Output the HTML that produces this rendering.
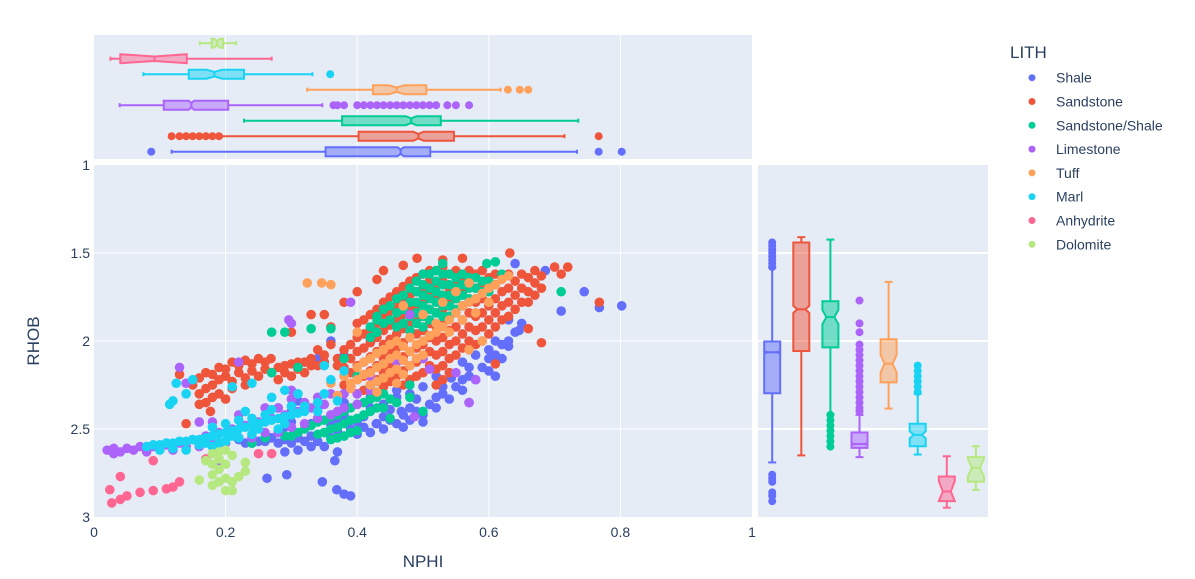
<!DOCTYPE html>
<html><head><meta charset="utf-8"><style>
body{margin:0;background:#fff;}
svg{display:block;font-family:"Liberation Sans",sans-serif;}
</style></head><body>
<svg id="chart" width="1195" height="579" viewBox="0 0 1195 579" xmlns="http://www.w3.org/2000/svg">
<rect x="94" y="35" width="658" height="124" fill="#e5ecf6"/>
<rect x="94" y="165" width="658" height="352" fill="#e5ecf6"/>
<rect x="758" y="165" width="230" height="352" fill="#e5ecf6"/>
<g id="grid"></g>
<g id="marks"></g>
<g id="axes" fill="#2a3f5f" font-size="14"></g>
<text x="423" y="567" font-size="17" fill="#2a3f5f" text-anchor="middle">NPHI</text>
<text x="39" y="341" font-size="17" fill="#2a3f5f" text-anchor="middle" transform="rotate(-90 39 341)">RHOB</text>
<g id="legend"></g>
</svg>
<script>
const categories=["Shale","Sandstone","Sandstone/Shale","Limestone","Tuff","Marl","Anhydrite","Dolomite"];
const colors=["#636efa","#EF553B","#00cc96","#ab63fa","#FFA15A","#19d3f3","#FF6692","#B6E880"];
const xTicks=[0,0.2,0.4,0.6,0.8,1];
const xTickLabels=["0","0.2","0.4","0.6","0.8","1"];
const yTicks=[1,1.5,2,2.5,3];
const yTickLabels=["1","1.5","2","2.5","3"];
// scatter points "nphi rhob; ..."
const shalePts="0.22 2.56;0.24 2.58;0.26 2.57;0.28 2.58;0.30 2.58;0.32 2.57;0.34 2.57;0.36 2.55;0.38 2.54;0.40 2.53;0.42 2.52;0.44 2.50;0.46 2.47;0.48 2.45;0.50 2.42;0.52 2.38;0.54 2.33;0.56 2.28;0.58 2.22;0.60 2.17;0.62 2.10;0.28 2.52;0.32 2.50;0.36 2.48;0.40 2.46;0.44 2.43;0.48 2.38;0.52 2.32;0.56 2.22;0.60 2.10;0.62 2.02;0.64 1.95;0.30 2.46;0.34 2.44;0.38 2.42;0.42 2.38;0.46 2.32;0.50 2.26;0.54 2.18;0.58 2.08;0.31 2.62;0.33 2.60;0.29 2.63;0.35 2.60;0.37 2.63;0.293 2.76;0.263 2.78;0.347 2.80;0.369 2.845;0.39 2.88;0.38 2.87;0.366 2.68;0.36 2.42;0.28 2.38;0.31 2.34;0.32 2.12;0.34 2.10;0.36 2.00;0.38 2.08;0.42 1.99;0.46 1.92;0.49 1.72;0.52 1.68;0.57 1.67;0.64 1.56;0.686 1.60;0.745 1.72;0.71 1.83;0.768 1.81;0.802 1.80;0.61 2.20;0.57 2.35;0.50 2.46;0.47 2.49;0.63 2.03;0.646 1.94;0.543 2.21;0.467 2.40;0.429 2.47;"+
"0.23 2.58;0.25 2.57;0.27 2.55;0.29 2.56;0.31 2.55;0.33 2.54;0.35 2.52;0.37 2.51;0.39 2.50;0.41 2.49;0.43 2.47;0.45 2.45;0.47 2.42;0.49 2.40;0.51 2.36;0.53 2.30;0.55 2.26;0.57 2.20;0.59 2.15;0.61 2.08;0.63 2.00;0.29 2.49;0.33 2.47;0.37 2.45;0.41 2.43;0.45 2.39;0.49 2.33;0.53 2.26;0.57 2.15;0.61 2.00;0.65 1.90;0.63 1.88;0.60 2.05;0.56 2.12;0.52 2.20;"+
"0.38 2.35;0.42 2.32;0.46 2.28;0.34 2.38;0.30 2.40;0.44 2.36;0.48 2.30";
const sandPts="0.15 2.25;0.17 2.18;0.19 2.15;0.21 2.12;0.23 2.11;0.25 2.10;0.16 2.30;0.18 2.25;0.20 2.20;0.22 2.18;0.24 2.17;0.26 2.16;0.17 2.35;0.19 2.30;0.21 2.27;0.23 2.25;0.177 2.40;0.14 2.47;0.28 2.15;0.30 2.13;0.32 2.12;0.34 2.14;0.30 2.20;0.28 2.22;0.13 2.19;0.269 2.10;"+
"0.16 2.21;0.18 2.19;0.20 2.16;0.22 2.14;0.24 2.13;0.26 2.12;0.17 2.27;0.19 2.22;0.21 2.23;0.23 2.21;0.25 2.20;0.18 2.32;0.20 2.33;0.16 2.36;0.27 2.18;0.29 2.14;0.31 2.12;0.33 2.10;0.35 2.08;0.37 2.14;0.32 2.18;"+
"0.38 2.05;0.38 2.15;0.38 2.25;0.40 1.90;0.40 1.98;0.40 2.06;0.40 2.14;0.40 2.22;0.40 2.30;0.42 1.85;0.42 1.93;0.42 2.01;0.42 2.09;0.42 2.17;0.42 2.25;0.44 1.78;0.44 1.86;0.44 1.94;0.44 2.02;0.44 2.10;0.44 2.18;0.44 2.26;0.46 1.72;0.46 1.80;0.46 1.88;0.46 1.96;0.46 2.04;0.46 2.12;0.46 2.20;0.48 1.66;0.48 1.74;0.48 1.82;0.48 1.90;0.48 1.98;0.48 2.06;0.48 2.14;0.48 2.22;0.50 1.62;0.50 1.70;0.50 1.78;0.50 1.86;0.50 1.94;0.50 2.02;0.50 2.10;0.50 2.18;0.52 1.60;0.52 1.68;0.52 1.76;0.52 1.84;0.52 1.92;0.52 2.00;0.52 2.08;0.52 2.16;0.54 1.62;0.54 1.70;0.54 1.78;0.54 1.86;0.54 1.94;0.54 2.02;0.54 2.10;0.54 2.18;0.56 1.64;0.56 1.72;0.56 1.80;0.56 1.88;0.56 1.96;0.56 2.04;0.58 1.62;0.58 1.70;0.58 1.78;0.58 1.86;0.58 1.94;0.58 2.02;0.60 1.64;0.60 1.72;0.60 1.80;0.60 1.88;0.60 1.96;0.62 1.64;0.62 1.72;0.62 1.80;0.62 1.88;0.64 1.66;0.64 1.74;0.64 1.82;0.66 1.64;0.66 1.72;0.66 1.78;0.68 1.63;0.68 1.70;"+
"0.39 2.02;0.39 2.10;0.39 2.18;0.39 2.26;0.41 1.88;0.41 1.96;0.41 2.04;0.41 2.12;0.41 2.20;0.41 2.28;0.43 1.82;0.43 1.90;0.43 1.98;0.43 2.06;0.43 2.14;0.43 2.22;0.45 1.75;0.45 1.83;0.45 1.91;0.45 1.99;0.45 2.07;0.45 2.15;0.45 2.23;0.47 1.69;0.47 1.77;0.47 1.85;0.47 1.93;0.47 2.01;0.47 2.09;0.47 2.17;0.47 2.25;0.49 1.64;0.49 1.72;0.49 1.80;0.49 1.88;0.49 1.96;0.49 2.04;0.49 2.12;0.49 2.20;0.51 1.60;0.51 1.66;0.51 1.74;0.51 1.82;0.51 1.90;0.51 1.98;0.51 2.06;0.51 2.14;0.53 1.58;0.53 1.66;0.53 1.74;0.53 1.82;0.53 1.90;0.53 1.98;0.53 2.06;0.53 2.14;0.53 2.22;0.55 1.60;0.55 1.68;0.55 1.76;0.55 1.84;0.55 1.92;0.55 2.00;0.55 2.08;0.57 1.60;0.57 1.68;0.57 1.76;0.57 1.84;0.57 1.92;0.57 2.00;0.59 1.60;0.59 1.68;0.59 1.76;0.59 1.84;0.59 1.92;0.59 2.00;0.61 1.62;0.61 1.68;0.61 1.76;0.61 1.84;0.61 1.92;0.63 1.62;0.63 1.70;0.63 1.78;0.63 1.86;0.65 1.62;0.65 1.70;0.65 1.78;0.67 1.60;0.67 1.67;0.67 1.74;"+
"0.29 2.18;0.31 2.16;0.33 2.14;0.35 2.12;0.37 2.10;0.36 2.02;0.34 2.05;0.30 1.95;0.33 1.85;0.35 1.85;0.38 1.78;0.40 1.72;0.43 1.65;0.44 1.60;0.47 1.57;0.491 1.53;0.53 1.54;0.56 1.53;0.632 1.50;0.70 1.58;0.72 1.58;0.71 1.62;0.768 1.78;0.66 1.93;0.68 2.01;0.61 2.13;0.52 2.25;0.36 1.92";
const sandShalePts="0.48 1.70;0.48 1.78;0.48 1.86;0.48 1.94;0.50 1.62;0.50 1.68;0.50 1.74;0.50 1.80;0.50 1.86;0.50 1.92;0.52 1.60;0.52 1.66;0.52 1.72;0.52 1.78;0.52 1.84;0.52 1.90;0.54 1.62;0.54 1.68;0.54 1.74;0.54 1.80;0.54 1.86;0.56 1.62;0.56 1.68;0.56 1.74;0.56 1.80;0.58 1.64;0.58 1.70;0.58 1.76;0.60 1.66;0.60 1.72;0.46 1.76;0.46 1.84;0.46 1.92;0.44 1.82;0.44 1.90;0.62 1.62;0.42 1.92;0.42 1.98;"+
"0.47 1.74;0.47 1.82;0.47 1.90;0.49 1.66;0.49 1.72;0.49 1.78;0.49 1.84;0.49 1.90;0.51 1.62;0.51 1.70;0.51 1.76;0.51 1.82;0.51 1.88;0.53 1.62;0.53 1.68;0.53 1.74;0.53 1.80;0.53 1.86;0.55 1.64;0.55 1.70;0.55 1.76;0.55 1.82;0.57 1.64;0.57 1.70;0.57 1.76;0.59 1.66;0.59 1.72;0.45 1.80;0.45 1.88;0.43 1.88;0.43 1.95;"+
"0.32 2.50;0.34 2.46;0.34 2.53;0.36 2.43;0.36 2.50;0.36 2.56;0.38 2.40;0.38 2.47;0.38 2.54;0.40 2.36;0.40 2.44;0.40 2.51;0.42 2.33;0.42 2.40;0.44 2.30;0.44 2.38;0.46 2.35;0.30 2.54;0.28 2.52;0.26 2.55;0.48 2.32;0.42 2.26;0.40 2.20;"+
"0.33 2.48;0.35 2.45;0.35 2.52;0.37 2.42;0.37 2.49;0.37 2.55;0.39 2.38;0.39 2.45;0.39 2.52;0.41 2.35;0.41 2.42;0.43 2.32;0.43 2.38;0.45 2.33;0.31 2.52;0.29 2.54;"+
"0.27 1.95;0.29 1.95;0.33 1.93;0.36 1.93;0.43 1.86;0.38 2.10;0.31 2.15;0.27 2.18;0.71 1.72;0.61 1.55;0.597 1.56;0.50 2.40;0.45 2.44;0.24 2.58;0.48 2.25;0.53 1.56";
const limePts="0.02 2.62;0.03 2.61;0.05 2.61;0.07 2.60;0.09 2.60;0.11 2.59;0.13 2.58;0.15 2.56;0.17 2.54;0.19 2.52;0.21 2.50;0.23 2.48;0.25 2.46;0.27 2.44;0.29 2.42;0.31 2.40;0.33 2.38;0.35 2.36;0.04 2.63;0.08 2.63;0.12 2.62;0.16 2.60;0.20 2.58;0.24 2.55;0.28 2.52;0.32 2.47;0.36 2.42;0.38 2.38;0.30 2.33;0.26 2.38;0.22 2.42;0.18 2.46;0.40 2.30;0.42 2.28;"+
"0.03 2.64;0.06 2.62;0.10 2.61;0.14 2.60;0.18 2.57;0.22 2.55;0.26 2.52;0.30 2.49;0.34 2.44;0.37 2.40;0.28 2.38;0.32 2.35;0.34 2.32;0.36 2.30;0.38 2.30;0.40 2.36;"+
"0.13 2.15;0.22 2.12;0.14 2.24;0.16 2.46;0.19 2.69;0.296 1.88;0.30 1.90;0.39 1.78;0.48 1.85;0.51 2.16;0.55 2.18;0.58 2.22;0.57 2.35;0.487 2.43;0.46 2.12;0.50 2.10;0.42 2.20;0.30 2.28";
const tuffPts="0.38 2.20;0.40 2.15;0.40 2.22;0.42 2.10;0.42 2.18;0.42 2.25;0.44 2.05;0.44 2.13;0.44 2.21;0.46 2.00;0.46 2.08;0.46 2.16;0.46 2.24;0.48 1.98;0.48 2.06;0.48 2.14;0.50 2.00;0.50 2.08;0.52 1.95;0.52 1.90;0.54 1.88;0.54 1.95;0.56 1.80;0.56 1.88;0.58 1.76;0.58 1.84;0.60 1.70;0.60 1.78;0.62 1.65;0.55 1.72;0.57 1.67;0.50 1.85;0.53 1.78;0.36 2.24;0.39 2.27;0.43 2.29;0.324 1.67;0.346 1.67;0.36 1.68;0.40 1.95;0.59 2.00;0.57 2.05;0.47 1.80;0.63 1.63;0.37 2.31;"+
"0.39 2.24;0.41 2.19;0.41 2.12;0.43 2.07;0.43 2.15;0.43 2.23;0.45 2.02;0.45 2.10;0.45 2.18;0.47 2.03;0.47 2.11;0.47 2.19;0.49 2.02;0.49 2.10;0.51 1.97;0.53 1.92;0.55 1.84;0.57 1.78;0.59 1.73;0.61 1.68";
const marlPts="0.08 2.60;0.10 2.59;0.12 2.58;0.14 2.57;0.16 2.56;0.18 2.54;0.20 2.52;0.22 2.50;0.24 2.48;0.26 2.46;0.28 2.44;0.30 2.42;0.32 2.40;0.12 2.61;0.16 2.59;0.20 2.57;0.24 2.53;0.28 2.50;0.18 2.49;0.22 2.45;0.26 2.42;0.30 2.37;0.34 2.35;0.23 2.40;0.19 2.58;0.14 2.62;"+
"0.09 2.59;0.11 2.58;0.13 2.57;0.15 2.56;0.17 2.55;0.19 2.53;0.21 2.51;0.23 2.49;0.25 2.47;0.27 2.45;0.29 2.43;0.31 2.41;0.10 2.62;0.17 2.58;0.21 2.54;0.25 2.50;0.29 2.47;0.20 2.47;0.24 2.44;0.27 2.39;0.32 2.37;0.22 2.55;0.18 2.60;"+
"0.125 2.24;0.14 2.30;0.12 2.34;0.115 2.36;0.15 2.22;0.21 2.26;0.24 2.24;0.27 2.32;0.29 2.28;0.35 2.30;0.36 2.22;0.35 2.14;0.38 2.17;0.34 2.40;0.37 2.34;0.31 2.30";
const anhyPts="0.024 2.845;0.027 2.92;0.04 2.90;0.05 2.88;0.07 2.86;0.09 2.85;0.11 2.84;0.12 2.83;0.13 2.80;0.04 2.77;0.09 2.68;0.25 2.64;0.27 2.64;0.17 2.67";
const doloPts="0.18 2.64;0.19 2.63;0.20 2.62;0.21 2.65;0.19 2.67;0.18 2.70;0.20 2.70;0.17 2.68;0.19 2.73;0.18 2.76;0.20 2.78;0.19 2.80;0.21 2.80;0.22 2.77;0.16 2.79;0.18 2.82;0.20 2.85;0.23 2.69;0.23 2.74;0.21 2.85";
const seriesPts=[shalePts,sandPts,sandShalePts,limePts,tuffPts,marlPts,anhyPts,doloPts];
// NPHI box stats (top marginal)
const nLo=[0.118,0.193,0.228,0.039,0.324,0.075,0.025,0.161];
const nQ1=[0.352,0.402,0.377,0.106,0.424,0.144,0.040,0.179];
const nMed=[0.466,0.493,0.482,0.148,0.460,0.183,0.092,0.187];
const nQ3=[0.511,0.547,0.527,0.204,0.505,0.228,0.141,0.196];
const nHi=[0.734,0.715,0.736,0.347,0.618,0.332,0.270,0.216];
const nNotch=[0.005,0.008,0.008,0.004,0.012,0.012,0.1,0.005];
const nOut=[[0.087,0.767,0.802],[0.118,0.13,0.14,0.15,0.16,0.17,0.18,0.19,0.767],[],[0.364,0.37,0.38,0.40,0.41,0.42,0.43,0.44,0.45,0.46,0.47,0.48,0.49,0.50,0.51,0.52,0.537,0.55,0.57],[0.629,0.647,0.66],[0.359],[],[]];
// RHOB box stats (right marginal)
const rLo=[1.583,1.41,1.424,2.42,1.664,2.30,2.655,2.598];
const rQ1=[2.003,1.44,1.774,2.52,1.99,2.47,2.77,2.66];
const rMed=[2.064,1.82,1.864,2.585,2.129,2.533,2.855,2.72];
const rQ3=[2.297,2.057,2.036,2.607,2.235,2.598,2.91,2.80];
const rHi=[2.69,2.65,2.417,2.66,2.384,2.645,2.947,2.846];
const rNotch=[0.005,0.02,0.04,0.003,0.05,0.02,0.06,0.05];
const rOut=[[1.44,1.46,1.48,1.50,1.52,1.54,1.56,1.58,2.76,2.78,2.80,2.86,2.88,2.91],[],[2.42,2.45,2.48,2.51,2.54,2.57,2.60],[1.77,1.90,1.95,2.02,2.05,2.08,2.11,2.14,2.17,2.20,2.23,2.26,2.29,2.32,2.35,2.38,2.40],[],[2.14,2.17,2.20,2.23,2.26,2.29],[],[]];

const NS="http://www.w3.org/2000/svg";
const X=n=>94+658*n;
const Y=r=>165+176*(r-1);
const topRow=i=>151.7-15.5*i;
const rightCol=i=>772.2+29.1*i;
function mk(tag,attrs,parent){const e=document.createElementNS(NS,tag);for(const k in attrs)e.setAttribute(k,attrs[k]);parent.appendChild(e);return e;}
const grid=document.getElementById('grid'),marks=document.getElementById('marks'),axes=document.getElementById('axes'),legend=document.getElementById('legend');
xTicks.forEach((t,i)=>{
  if(t>0&&t<1){
    let g=mk('line',{x1:X(t),x2:X(t),y1:165,y2:517,stroke:'#fff','stroke-width':1},grid);
    
    
    let g2=mk('line',{x1:X(t),x2:X(t),y1:35,y2:159,stroke:'#fff','stroke-width':1},grid);
    
    
  }
  let tx=mk('text',{x:X(t),y:537,'text-anchor':'middle'},axes);tx.textContent=xTickLabels[i];
  
  
});
yTicks.forEach((t,i)=>{
  if(t>1&&t<3){
    let g=mk('line',{x1:94,x2:752,y1:Y(t),y2:Y(t),stroke:'#fff','stroke-width':1},grid);
    
    
    let g2=mk('line',{x1:758,x2:988,y1:Y(t),y2:Y(t),stroke:'#fff','stroke-width':2},grid);
    
    
  }
  let tx=mk('text',{x:90,y:Y(t)+5,'text-anchor':'end'},axes);tx.textContent=yTickLabels[i];
  
  
});
// scatter
seriesPts.forEach((s,i)=>{
  const g=mk('g',{fill:colors[i]},marks);
  
  
  s.split(';').forEach(p=>{const [n,r]=p.trim().split(' ').map(Number);
    const c=mk('circle',{cx:X(n),cy:Y(r),r:4.8},g);
    
    
  });
});
// top boxes (horizontal)
categories.forEach((c,i)=>{
  const g=mk('g',{},marks);
  
  
  const y=topRow(i),h=4.5,col=colors[i];
  mk('line',{x1:X(nLo[i]),x2:X(nQ1[i]),y1:y,y2:y,stroke:col,'stroke-width':2},g);
  mk('line',{x1:X(nQ3[i]),x2:X(nHi[i]),y1:y,y2:y,stroke:col,'stroke-width':2},g);
  mk('line',{x1:X(nLo[i]),x2:X(nLo[i]),y1:y-2,y2:y+2,stroke:col,'stroke-width':2},g);
  mk('line',{x1:X(nHi[i]),x2:X(nHi[i]),y1:y-2,y2:y+2,stroke:col,'stroke-width':2},g);
  const a=X(nQ1[i]),b=X(nQ3[i]),m=X(nMed[i]);
  const nl=Math.max(a,X(nMed[i]-nNotch[i])),nr=Math.min(b,X(nMed[i]+nNotch[i]));
  const pts=[[a,y-h],[nl,y-h],[m,y-h/2],[nr,y-h],[b,y-h],[b,y+h],[nr,y+h],[m,y+h/2],[nl,y+h],[a,y+h]];
  mk('polygon',{points:pts.map(p=>p.join(',')).join(' '),fill:col,'fill-opacity':0.5,stroke:col,'stroke-width':2},g);
  mk('line',{x1:m,x2:m,y1:y-h/2,y2:y+h/2,stroke:col,'stroke-width':2},g);
  nOut[i].forEach(o=>{const d=mk('circle',{cx:X(o),cy:y,r:4,fill:col},g);
    
    });
});
// right boxes (vertical)
categories.forEach((c,i)=>{
  const g=mk('g',{},marks);
  
  
  const x=rightCol(i),w=8,col=colors[i];
  mk('line',{y1:Y(rLo[i]),y2:Y(rQ1[i]),x1:x,x2:x,stroke:col,'stroke-width':2},g);
  mk('line',{y1:Y(rQ3[i]),y2:Y(rHi[i]),x1:x,x2:x,stroke:col,'stroke-width':2},g);
  mk('line',{y1:Y(rLo[i]),y2:Y(rLo[i]),x1:x-4,x2:x+4,stroke:col,'stroke-width':2},g);
  mk('line',{y1:Y(rHi[i]),y2:Y(rHi[i]),x1:x-4,x2:x+4,stroke:col,'stroke-width':2},g);
  const a=Y(rQ1[i]),b=Y(rQ3[i]),m=Y(rMed[i]);
  const nt=Math.max(a,Y(rMed[i]-rNotch[i])),nb=Math.min(b,Y(rMed[i]+rNotch[i]));
  const pts=[[x-w,a],[x-w,nt],[x-w/2,m],[x-w,nb],[x-w,b],[x+w,b],[x+w,nb],[x+w/2,m],[x+w,nt],[x+w,a]];
  mk('polygon',{points:pts.map(p=>p.join(',')).join(' '),fill:col,'fill-opacity':0.5,stroke:col,'stroke-width':2},g);
  mk('line',{y1:m,y2:m,x1:x-w/2,x2:x+w/2,stroke:col,'stroke-width':2},g);
  rOut[i].forEach(o=>{const d=mk('circle',{cx:x,cy:Y(o),r:4,fill:col},g);
    
    });
});
// legend
const lt=mk('text',{x:1010,y:58,'font-size':17,fill:'#2a3f5f'},legend);lt.textContent='LITH';


categories.forEach((c,i)=>{
  const g=mk('g',{},legend);
  
  
  const y=77.7+23.8*i;
  mk('circle',{cx:1032,cy:y,r:3.5,fill:colors[i]},g);
  const t=mk('text',{x:1056,y:y+5,'font-size':14,fill:'#2a3f5f'},g);t.textContent=c;
});
</script>
</body></html>
